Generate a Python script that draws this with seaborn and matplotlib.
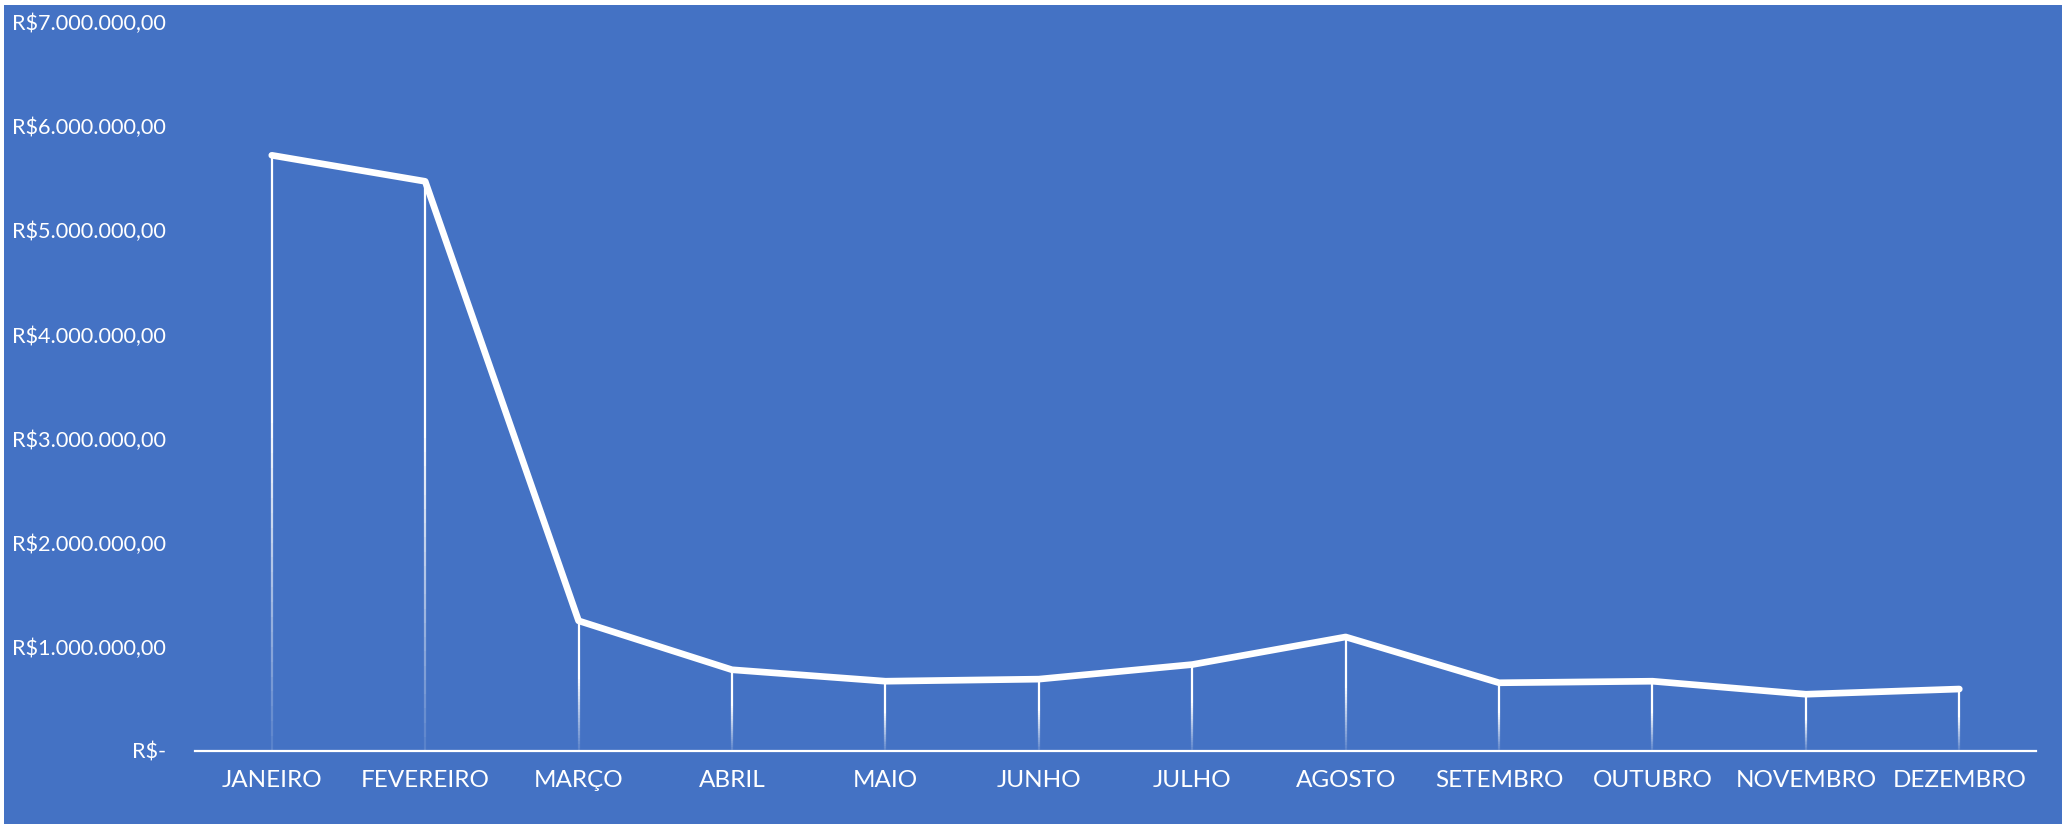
import numpy as np
import seaborn as sns
import matplotlib.pyplot as plt
from matplotlib.patches import Rectangle
from matplotlib.collections import LineCollection
from matplotlib.ticker import FuncFormatter

# Monthly values (R$)
meses = ['JANEIRO', 'FEVEREIRO', 'MARÇO', 'ABRIL', 'MAIO', 'JUNHO',
         'JULHO', 'AGOSTO', 'SETEMBRO', 'OUTUBRO', 'NOVEMBRO', 'DEZEMBRO']
valores = [5720000, 5470000, 1250000, 780000, 670000, 690000,
           830000, 1095000, 655000, 670000, 545000, 595000]
y_ticks = [0, 1000000, 2000000, 3000000, 4000000, 5000000, 6000000, 7000000]

azul = '#4472C4'

sns.set_theme(style='white')
plt.rcParams['font.family'] = ['Lato', 'DejaVu Sans']

fig = plt.figure(figsize=(20.62, 8.24), dpi=100, facecolor=azul)
# thin white strips at top and left, like the source screenshot
fig.patches.append(Rectangle((0, 0.994), 1, 0.006, transform=fig.transFigure,
                             facecolor='white', edgecolor='none', zorder=-1))
fig.patches.append(Rectangle((0, 0), 0.002, 1, transform=fig.transFigure,
                             facecolor='white', edgecolor='none', zorder=-1))
ax = fig.add_axes([0.0946, 0.0886, 0.8928, 0.8847])
ax.set_facecolor('none')

# main line
sns.lineplot(x=meses, y=valores, sort=False, color='white', linewidth=4.8,
             solid_capstyle='round', ax=ax, zorder=3)

# drop lines with a fade towards the axis
segs, cols = [], []
n = 40
for i, v in enumerate(valores):
    edges = np.linspace(0, v, n + 1)
    for k in range(n):
        frac = (k + 0.5) / n
        segs.append([(i, edges[k]), (i, edges[k + 1])])
        cols.append((1, 1, 1, float(np.clip(0.1 + frac * 1.6, 0, 1))))
ax.add_collection(LineCollection(segs, colors=cols, linewidths=1.6, zorder=2))

ax.set_xlim(-0.5, len(meses) - 0.5)
ax.set_ylim(0, 7000000)
ax.set_yticks(y_ticks)


def reais(v, pos):
    if v == 0:
        return 'R$-'
    s = f'{v:,.2f}'.replace(',', 'X').replace('.', ',').replace('X', '.')
    return 'R$' + s


ax.yaxis.set_major_formatter(FuncFormatter(reais))
ax.tick_params(axis='y', length=0, pad=21, labelsize=15.6, labelcolor='white')
ax.tick_params(axis='x', length=0, pad=14, labelsize=17.5, labelcolor='white')

for s in ['top', 'right', 'left']:
    ax.spines[s].set_visible(False)
ax.spines['bottom'].set_color('white')
ax.spines['bottom'].set_linewidth(1.6)
ax.set_xlabel('')
ax.set_ylabel('')
ax.grid(False)

fig.savefig('out.png', dpi=100, facecolor=fig.get_facecolor())
